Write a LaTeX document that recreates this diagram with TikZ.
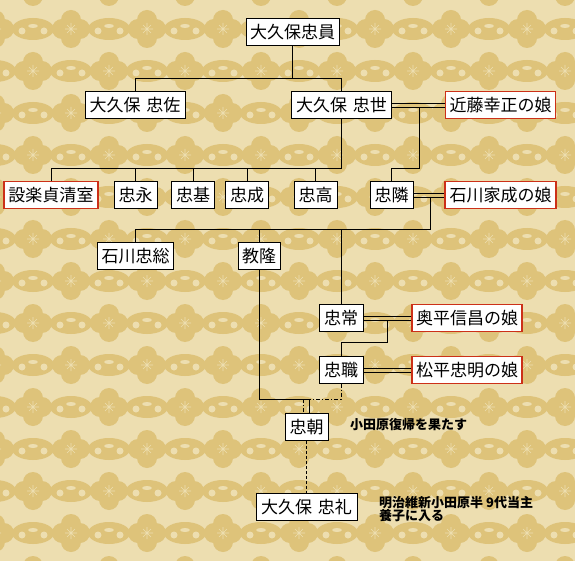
\documentclass[tikz,border=0pt]{standalone}
\usepackage{fontspec}
\newfontfamily\jp{Noto Sans CJK JP}
\definecolor{bglight}{RGB}{237,222,176}
\definecolor{bgdark}{RGB}{222,195,122}
\definecolor{wifered}{RGB}{204,48,24}
\tikzset{
  person/.style={draw=black, line width=0.8pt, fill=white, minimum height=27pt, inner sep=0pt, font=\jp\fontsize{17}{19}\selectfont},
  wife/.style={person, draw=wifered, line width=1.2pt},
  link/.style={line width=0.9pt, draw=black},
  dashdotline/.style={link, dash pattern=on 4pt off 2pt on 1pt off 2pt},
  dashline/.style={link, dash pattern=on 3pt off 2pt},
  note/.style={anchor=west, inner sep=0pt, align=left},
  flowerpat/.pic={
    \fill[bgdark] (0,-9) circle (10pt) (0,9) circle (10pt) (-9,0) circle (10pt) (9,0) circle (10pt);
    \draw[bglight, line width=0.6pt] (-6,0)--(6,0) (0,-6)--(0,6) (-4,-4)--(4,4) (-4,4)--(4,-4);
  },
  cloudpat/.pic={
    \fill[bgdark] (0,0) ellipse (21pt and 11pt);
    \fill[bglight] (-11,2) circle (3.5pt) (11,2) circle (3.5pt) (0,-3) ellipse (5pt and 2pt);
  }
}
\begin{document}
\begin{tikzpicture}[x=1pt,y=-1pt]
\useasboundingbox (0,0) rectangle (575,561);
\begin{scope}
  \clip (0,0) rectangle (575,561);
  \fill[bglight] (0,0) rectangle (575,561);
  \foreach \k in {-1,...,13} {
    \pgfmathsetmacro{\yy}{29+42*\k}
    \pgfmathsetmacro{\off}{mod(abs(\k),2)==0 ? 71 : 33}
    \foreach \m in {-1,...,8} {
      \pgfmathsetmacro{\xf}{\off+76*\m}
      \pgfmathsetmacro{\xc}{\off-38+76*\m}
      \pic at (\xf,\yy) {flowerpat};
      \pic at (\xc,\yy) {cloudpat};
    }
  }
\end{scope}

% people
\node[person, minimum width=93pt] (tadakazu) at (292.5,32) {大久保忠員};
\node[person, minimum width=100pt] (tadasuke) at (135,105) {大久保\hspace{0.35em}忠佐};
\node[person, minimum width=100pt] (tadayo) at (341.5,105) {大久保\hspace{0.35em}忠世};
\node[wife, minimum width=110pt] (kondo) at (500.5,105) {近藤幸正の娘};

\node[wife, minimum width=94pt] (shitara) at (51,195) {設楽貞清室};
\node[person, minimum width=43pt] (tadanaga) at (135.5,195) {忠永};
\node[person, minimum width=43pt] (tadamotoA) at (193,195) {忠基};
\node[person, minimum width=43pt] (tadanari) at (247,195) {忠成};
\node[person, minimum width=43pt] (tadataka) at (315.5,195) {忠高};
\node[person, minimum width=43pt] (tadachika) at (391.5,195) {忠隣};
\node[wife, minimum width=111pt] (ishikawaie) at (500.5,195) {石川家成の娘};

\node[person, minimum width=76pt] (tadafusa) at (135.5,256) {石川忠総};
\node[person, minimum width=42pt] (noritaka) at (259,256) {教隆};

\node[person, minimum width=44pt] (tadatsune) at (341,318) {忠常};
\node[wife, minimum width=110pt] (okudaira) at (467,318) {奥平信昌の娘};
\node[person, minimum width=44pt] (tadamotoB) at (341,370) {忠職};
\node[wife, minimum width=110pt] (matsudaira) at (467,370) {松平忠明の娘};

\node[person, minimum width=43pt] (tadatomo) at (306.5,427) {忠朝};
\node[person, minimum width=101pt] (tadanori) at (306.5,507) {大久保\hspace{0.35em}忠礼};

\node[note, font=\jp\bfseries\fontsize{13}{13}\selectfont] (n1) at (350,425) {小田原復帰を果たす};
\node[note, font=\jp\bfseries\fontsize{13}{13}\selectfont] (n2) at (379,509.5) {明治維新小田原半 9代当主\\養子に入る};

% junction coordinates
\coordinate (h1) at (0,78);
\coordinate (h2) at (0,168);
\coordinate (h3) at (0,229);
\coordinate (h4) at (0,342);
\coordinate (m1) at (419,107);
\coordinate (m2) at (430,197);
\coordinate (m3) at (387,320);
\coordinate (ja) at (303,399);
\coordinate (jb) at (309,399);

% generation 1
\draw[link] (tadakazu.south) -- (tadakazu.south |- h1);
\draw[link] (tadasuke.north) |- (tadayo.north |- h1) -- (tadayo.north);

% marriages (double lines)
\foreach \a/\b in {tadayo/kondo, tadachika/ishikawaie, tadatsune/okudaira, tadamotoB/matsudaira} {
  \draw[link] ([yshift=2pt]\a.east) -- ([yshift=2pt]\b.west);
  \draw[link] ([yshift=-2pt]\a.east) -- ([yshift=-2pt]\b.west);
}

% generation 2
\draw[link] (tadayo.south) -- (tadayo.south |- h2);
\draw[link] (shitara.north) |- (tadayo.south |- h2);
\foreach \c in {tadanaga, tadamotoA, tadanari, tadataka} {
  \draw[link] (\c.north) -- (\c.north |- h2);
}
\draw[link] (m1) |- (tadachika.north |- h2) -- (tadachika.north);

% generation 3
\draw[link] (m2) |- (tadafusa.north |- h3) -- (tadafusa.north);
\draw[link] (noritaka.north) -- (noritaka.north |- h3);
\draw[link] (tadatsune.north) -- (tadatsune.north |- h3);

% 忠常 -> 忠職
\draw[link] (m3) |- (tadamotoB.north |- h4) -- (tadamotoB.north);

% to 忠朝
\draw[link] (noritaka.south) |- (jb);
\draw[dashdotline] (tadamotoB.south) |- (jb);
\draw[dashdotline] (ja) -- (ja |- tadatomo.north);
\draw[link] (jb) -- (jb |- tadatomo.north);

% to 忠礼
\draw[dashline] (tadatomo.south) -- (tadanori.north);
\end{tikzpicture}
\end{document}
